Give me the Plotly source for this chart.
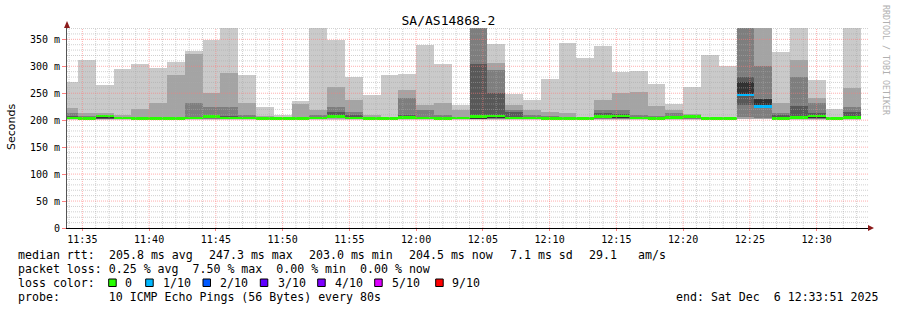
import plotly.graph_objects as go
import pandas as pd

# ---------------- data ----------------
# 80 s SmokePing steps; first step starts before the graph start and is clipped
step_start = pd.date_range("2025-12-06 11:33:20", periods=45, freq="80s")
graph_start = pd.Timestamp("2025-12-06 11:33:51")
graph_end = pd.Timestamp("2025-12-06 12:33:51")

# sorted ping times (ms) per step, rank 1 (fastest) .. rank 10 (slowest); None = lost
ping1 = [201]*45
ping2 = [202, 202, 202, 202, 202, 202, 202, 202, 202, 202, 202, 202, 202, 202, 202, 202.5,
         202, 202, 202, 202, 202, 202, 202, 202, 202, 202, 202, 202, 202, 202, 202, 202,
         202, 202, 202, 202, 202, 202, 203, 202, 202, 202, 202, 202, 202]
ping3 = [202.5, 202.5, 202.5, 202.5, 202.5, 202.5, 202.5, 202.5, 203, 202.5, 202.5, 202.5, 202.5, 202.5, 202.5, 203.5,
         202.5, 202.5, 202.5, 202.5, 202.5, 202.5, 202.5, 202.5, 203, 202.5, 202.5, 202.5, 202.5, 202.5, 203, 203,
         202.5, 202.5, 202.5, 203, 202.5, 202.5, 205.5, 203.6, 202.5, 202.5, 203, 202.5, 202.5]
ping4 = [203, 203, 203, 203, 203, 203, 203, 203, 204, 203, 203, 203, 203, 203, 203, 204.5,
         203, 203, 203, 203, 203, 203, 203, 203, 203.5, 203, 203, 203, 202.8, 202.8, 204, 204,
         203, 203, 203, 204, 203, 203, 228.5, 225, 203, 203, 204, 203, 203]
ping5 = [203.3, 203.2, 203.3, 203.5, 203.2, 203.2, 203.2, 203.5, 205, 203.5, 203.5, 203.2, 203.2, 203.2, 203.5, 205.5,
         203.5, 203.2, 203.2, 203.5, 203.5, 203.2, 203.5, 203.5, 204, 203.5, 203.5, 203.2, 203, 203, 205, 205,
         203.5, 203.2, 203.5, 205, 203.2, 203.2, 246.8, 225.2, 203.2, 203.5, 205, 203.2, 203.5]
ping6 = [203.7, 203.5, 207.5, 204, 203.5, 203.5, 203.5, 204, 206.5, 204, 204, 203.5, 203.5, 203.5, 204, 207,
         204, 203.5, 203.5, 204.5, 204, 203.5, 204, 206.5, 208, 204, 204, 203.5, 203, 203, 206.5, 207.5,
         204, 203.5, 204.5, 206.5, 203.5, 203.5, 270, 238.8, 203.5, 204.5, 207.5, 203.5, 204.5]
ping7 = [208, 205, 208.5, 205, 204.5, 204.5, 204.5, 205, 208, 208, 206, 204.5, 204, 204.5, 206, 216,
         210, 204.5, 204, 210, 206, 206, 205, 304, 250, 215, 206, 205, 204, 204, 213, 212,
         206, 205, 207, 208, 204, 204, 281, 239, 210, 226.5, 214, 204, 216]
ping8 = [213.5, 208, 210, 206.5, 206, 206, 205.5, 232.5, 225, 225, 210, 205.5, 205, 206, 210, 225,
         215.5, 206, 205, 241.5, 219, 210, 206.5, 380, 293, 219.5, 210, 207, 206, 205, 218, 219,
         210, 207, 213, 209.5, 204.5, 204.5, 385, 300.5, 214, 281, 231.5, 205, 225]
ping9 = [222.5, 213, 213, 210, 221.5, 232.5, 284, 322.5, 251, 288, 232.5, 207, 206, 230, 218, 261.5,
         238, 209, 206.5, 256, 228.5, 232.5, 219.5, 390, 306.5, 228.5, 218, 216, 214, 206.5, 237.5, 250,
         252.5, 226.5, 218, 211.5, 205.5, 205, 395, 390, 231.5, 311.5, 242, 206.5, 260]
ping10 = [271, 311.5, 265.5, 295, 304.5, 297, 308.5, 328.5, 349, 390, 284, 224, 210, 235.5, 385, 349.5,
          280, 247, 284.5, 286.5, 339.5, 305, 229, 400, 341, 249.5, 237.5, 276, 342.5, 314.5, 337.5, 290,
          291.5, 268, 230, 262, 321, 300.5, None, None, 327, 385, 274.5, 221, 385]
# lost pings per step (out of 10)
loss = [0]*38 + [1, 1] + [0]*5

pings = [ping1, ping2, ping3, ping4, ping5, ping6, ping7, ping8, ping9, ping10]
# smokeping median: middle of received pings
median = [ping6[i] if loss[i] == 0 else ping5[i] for i in range(45)]

y_ticks = [0, 50, 100, 150, 200, 250, 300, 350]
y_ticktext = ["0", "50 m", "100 m", "150 m", "200 m", "250 m", "300 m", "350 m"]

# ---------------- style ----------------
smoke_colors = ["#cacaca", "#a4a4a4", "#7e7e7e", "#585858", "#323232"]
loss_colors = {0: "#26ff00", 1: "#00b8ff", 2: "#0059ff", 3: "#5e00ff", 4: "#7e00ff", 5: "#dd00ff", 9: "#ff0000"}
MONO = "DejaVu Sans Mono"
W, H = 897, 310
L, R, T, B = 67, 29, 28, 82
PW, PH = W - L - R, H - T - B
YMAX = 371

def px(x):
    return (x - L) / PW

def py(y):
    return (H - B - y) / PH

centers = [t + pd.Timedelta(seconds=40) for t in step_start]

fig = go.Figure()
for j in range(5):
    lo, hi = pings[j], pings[9 - j]
    base, hgt = [], []
    for a, b in zip(lo, hi):
        if a is None or b is None:
            base.append(None); hgt.append(None)
        else:
            base.append(a); hgt.append(b - a)
    fig.add_trace(go.Bar(x=centers, y=hgt, base=base, width=80000,
                         marker=dict(color=smoke_colors[j], line=dict(width=0)),
                         hoverinfo="skip", showlegend=False))

half = 2.4
fig.add_trace(go.Bar(x=centers, y=[2 * half] * 45, base=[m - half for m in median], width=80000,
                     marker=dict(color=[loss_colors[l] for l in loss], line=dict(width=0)),
                     hoverinfo="skip", showlegend=False))

# grid drawn above the data (as rrdtool does)
shapes = []
minor_c = "rgba(170,170,170,0.55)"
major_c = "rgba(255,120,120,0.6)"
t = pd.Timestamp("2025-12-06 11:34:00")
while t <= graph_end:
    major = (t.minute % 5 == 0)
    shapes.append(dict(type="line", xref="x", yref="paper", x0=t, x1=t, y0=0, y1=1, layer="above",
                       line=dict(color=major_c if major else minor_c, width=1, dash="1px,1px")))
    t += pd.Timedelta(minutes=1)
for v in range(10, YMAX, 10):
    major = (v % 50 == 0)
    shapes.append(dict(type="line", xref="paper", yref="y", x0=0, x1=1, y0=v, y1=v, layer="above",
                       line=dict(color=major_c if major else minor_c, width=1, dash="1px,1px")))

# axis arrows
shapes.append(dict(type="path", xref="paper", yref="paper", xsizemode="pixel", ysizemode="pixel",
                   xanchor=0, yanchor=1, path="M -3 0 L 3 0 L 0 7 Z",
                   fillcolor="#8b1a1a", line=dict(width=0), layer="above"))
shapes.append(dict(type="path", xref="paper", yref="paper", xsizemode="pixel", ysizemode="pixel",
                   xanchor=1, yanchor=0, path="M 0 3 L 0 -3 L 6 0 Z",
                   fillcolor="#8b1a1a", line=dict(width=0), layer="above"))

annotations = []
def text(x, y, s, size=11.6, color="black", anchor="left", family=MONO, angle=0):
    annotations.append(dict(xref="paper", yref="paper", x=px(x), y=py(y), text=s.replace(" ", "&nbsp;"),
                            showarrow=False, xanchor=anchor, yanchor="middle", textangle=angle,
                            font=dict(family=family, size=size, color=color)))

line1 = [(16, "median rtt:"), (107.3, "205.8 ms avg"), (207.3, "247.3 ms max"), (307.3, "203.0 ms min"),
         (407.3, "204.5 ms now"), (507.7, "7.1 ms sd"), (586.7, "29.1"), (635.7, "am/s")]
for x, s in line1:
    text(x, 254.5, s)
text(16, 268.5, "packet loss: 0.25 % avg  7.50 % max  0.00 % min  0.00 % now")
text(16, 282.5, "loss color:")
text(16, 296.5, "probe:       10 ICMP Echo Pings (56 Bytes) every 80s")
text(880, 296.5, "end: Sat Dec  6 12:33:51 2025", anchor="right")

legend_items = [(108.7, 123.3, "0", 0), (145.7, 160.7, "1/10", 1), (203, 218.3, "2/10", 2),
                (260.3, 276, "3/10", 3), (317.7, 332.7, "4/10", 4), (374.7, 390, "5/10", 5),
                (435.7, 450, "9/10", 9)]
for bx, tx, lab, k in legend_items:
    shapes.append(dict(type="rect", xref="paper", yref="paper", x0=px(bx), x1=px(bx + 7.5),
                       y0=py(286.5), y1=py(279), fillcolor=loss_colors[k],
                       line=dict(color="black", width=1)))
    text(tx, 282.5, lab)

text(11, 127, "Seconds", size=11, family="DejaVu Sans", anchor="center", angle=-90)
text(886, 60, "RRDTOOL / TOBI OETIKER", size=8.3, color="#b0b0b0", anchor="center", angle=90)

fig.update_layout(
    width=W, height=H, margin=dict(l=L, r=R, t=T, b=B),
    paper_bgcolor="white", plot_bgcolor="white",
    barmode="overlay", bargap=0,
    title=dict(text="SA/AS14868-2", x=0.5, xanchor="center", y=1 - 20 / H, yanchor="middle",
               font=dict(family=MONO, size=13, color="black")),
    shapes=shapes, annotations=annotations,
    xaxis=dict(type="date", range=[graph_start, graph_end], showgrid=False, zeroline=False,
               tickformat="%H:%M", tick0="2025-12-06 11:35:00", dtick=300000,
               ticks="outside", ticklen=2, tickcolor="#ff8080",
               showline=True, linecolor="black", linewidth=1,
               tickfont=dict(family=MONO, size=10, color="black")),
    yaxis=dict(range=[0, YMAX], showgrid=False, zeroline=False,
               tickvals=y_ticks, ticktext=y_ticktext,
               ticks="outside", ticklen=4, tickcolor="#ff8080",
               showline=True, linecolor="#555555", linewidth=1,
               tickfont=dict(family=MONO, size=10, color="black")),
)

fig.write_html("out.html")
